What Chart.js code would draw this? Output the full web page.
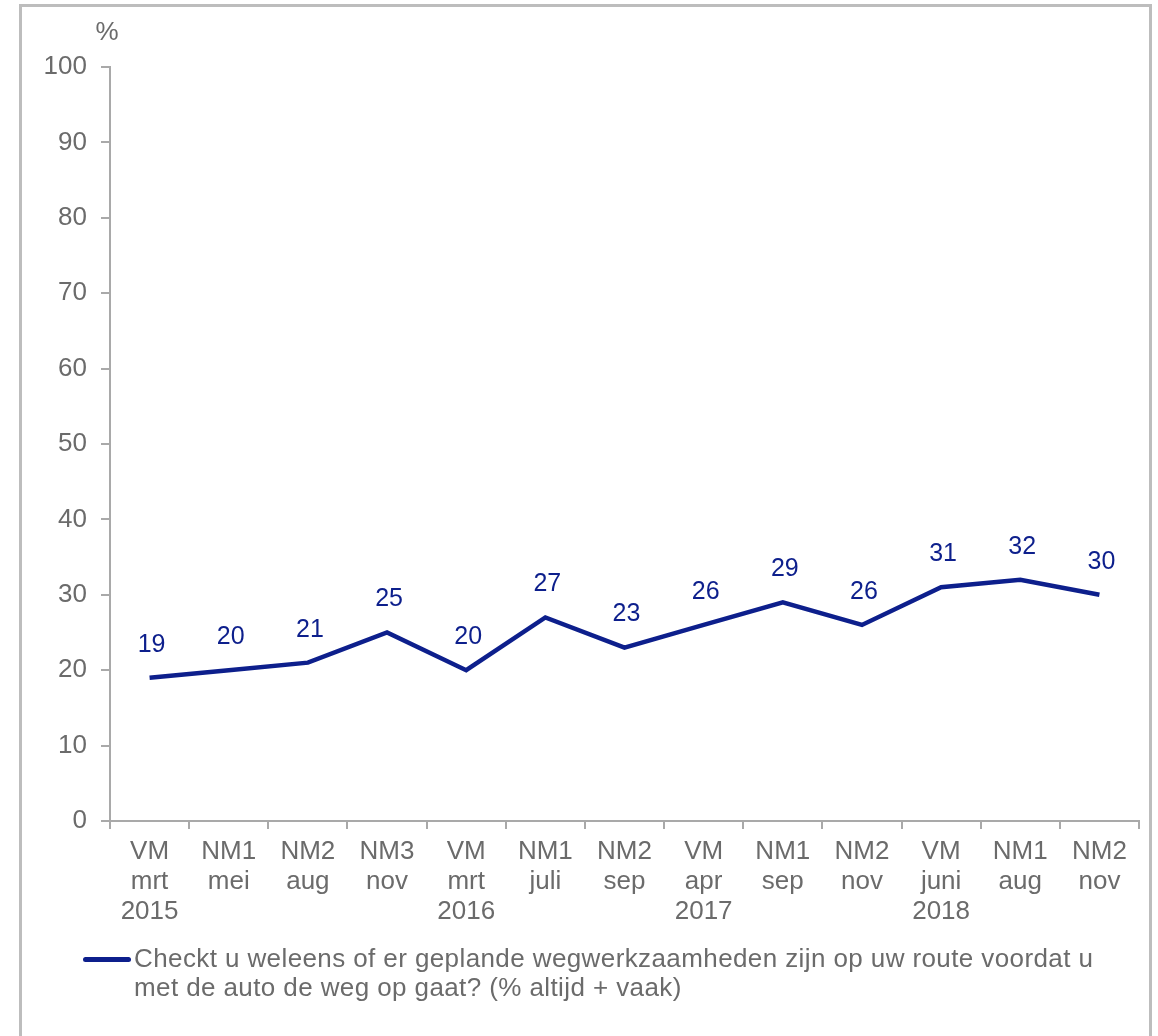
<!DOCTYPE html>
<html>
<head>
<meta charset="utf-8">
<script src="https://cdn.jsdelivr.net/npm/chart.js@4.4.1/dist/chart.umd.min.js"></script>
<style>
    html, body { margin: 0; padding: 0; background: #fff; overflow: hidden; }
    body { width: 1158px; height: 1036px; position: relative; font-family: "Liberation Sans", Arial, sans-serif; }
    #frame { position: absolute; left: 19px; top: 4px; width: 1133px; height: 1100px; border: 3px solid #bdbdbd; box-sizing: border-box; }
    #wrap { position: absolute; left: 0; top: 0; width: 1158px; height: 1036px; }
    #legend { position: absolute; left: 83px; top: 944px; font-size: 26px; line-height: 29px; color: #6b6b6b; letter-spacing: 0.4px; }
    #legend .swatch { position: absolute; left: 0; top: 13px; width: 48px; height: 5px; border-radius: 3px; background: #0d1f8c; }
    #legend .text { margin-left: 51px; white-space: nowrap; }
</style>
</head>
<body>
<div id="frame"></div>
<div id="wrap"><canvas id="lineChart" width="1158" height="1036"></canvas></div>
<div id="legend">
    <div class="swatch"></div>
    <div class="text">Checkt u weleens of er geplande wegwerkzaamheden zijn op uw route voordat u<br>met de auto de weg op gaat? (% altijd + vaak)</div>
</div>
<script>
const waves = [
    ["VM", "mrt", "2015"],
    ["NM1", "mei"],
    ["NM2", "aug"],
    ["NM3", "nov"],
    ["VM", "mrt", "2016"],
    ["NM1", "juli"],
    ["NM2", "sep"],
    ["VM", "apr", "2017"],
    ["NM1", "sep"],
    ["NM2", "nov"],
    ["VM", "juni", "2018"],
    ["NM1", "aug"],
    ["NM2", "nov"]
];
const checksRoadworks = [19, 20, 21, 25, 20, 27, 23, 26, 29, 26, 31, 32, 30];
const seriesName = "Checkt u weleens of er geplande wegwerkzaamheden zijn op uw route voordat u met de auto de weg op gaat? (% altijd + vaak)";

const navy = "#0d1f8c";
const tickGrey = "#6b6b6b";
const axisGrey = "#a9a9a9";
const fontFamily = "'Liberation Sans', Arial, sans-serif";

// value labels above each point, plus the "%" unit over the y axis
const pointLabels = {
    id: "pointLabels",
    afterDatasetsDraw(chart) {
        const ctx = chart.ctx;
        const meta = chart.getDatasetMeta(0);
        ctx.save();
        ctx.font = "25px " + fontFamily;
        ctx.fillStyle = navy;
        ctx.textAlign = "center";
        ctx.textBaseline = "middle";
        meta.data.forEach((pt, i) => {
            ctx.fillText(String(checksRoadworks[i]), pt.x + 2, pt.y - 33);
        });
        ctx.fillStyle = tickGrey;
        ctx.font = "26px " + fontFamily;
        ctx.fillText("%", chart.chartArea.left - 3, chart.chartArea.top - 34);
        ctx.restore();
    }
};

const ctx = document.getElementById("lineChart").getContext("2d");
const lineChart = new Chart(ctx, {
    type: "line",
    data: {
        labels: waves,
        datasets: [
            {
                label: seriesName,
                data: checksRoadworks,
                borderColor: navy,
                borderWidth: 4.5,
                pointRadius: 0,
                tension: 0,
                fill: false,
            },
        ],
    },
    options: {
        responsive: false,
        animation: false,
        layout: {
            padding: { left: 0, top: 67, right: 19, bottom: 115 }
        },
        plugins: {
            legend: { display: false },
            tooltip: { enabled: false }
        },
        scales: {
            x: {
                offset: true,
                grid: {
                    offset: true,
                    drawOnChartArea: false,
                    drawTicks: true,
                    tickLength: 8,
                    color: axisGrey,
                    lineWidth: 2
                },
                border: { color: axisGrey, width: 2 },
                ticks: {
                    color: tickGrey,
                    padding: 8,
                    maxRotation: 0,
                    autoSkip: false,
                    font: { family: fontFamily, size: 26, lineHeight: 1.15 }
                },
                afterFit: (scale) => { scale.height = 100; }
            },
            y: {
                min: 0,
                max: 100,
                grid: {
                    drawOnChartArea: false,
                    drawTicks: true,
                    tickLength: 9,
                    color: axisGrey,
                    lineWidth: 2
                },
                border: { color: axisGrey, width: 2 },
                ticks: {
                    stepSize: 10,
                    color: tickGrey,
                    padding: 14,
                    font: { family: fontFamily, size: 26 }
                },
                afterFit: (scale) => { scale.width = 110; }
            }
        }
    },
    plugins: [pointLabels]
});
</script>
</body>
</html>
